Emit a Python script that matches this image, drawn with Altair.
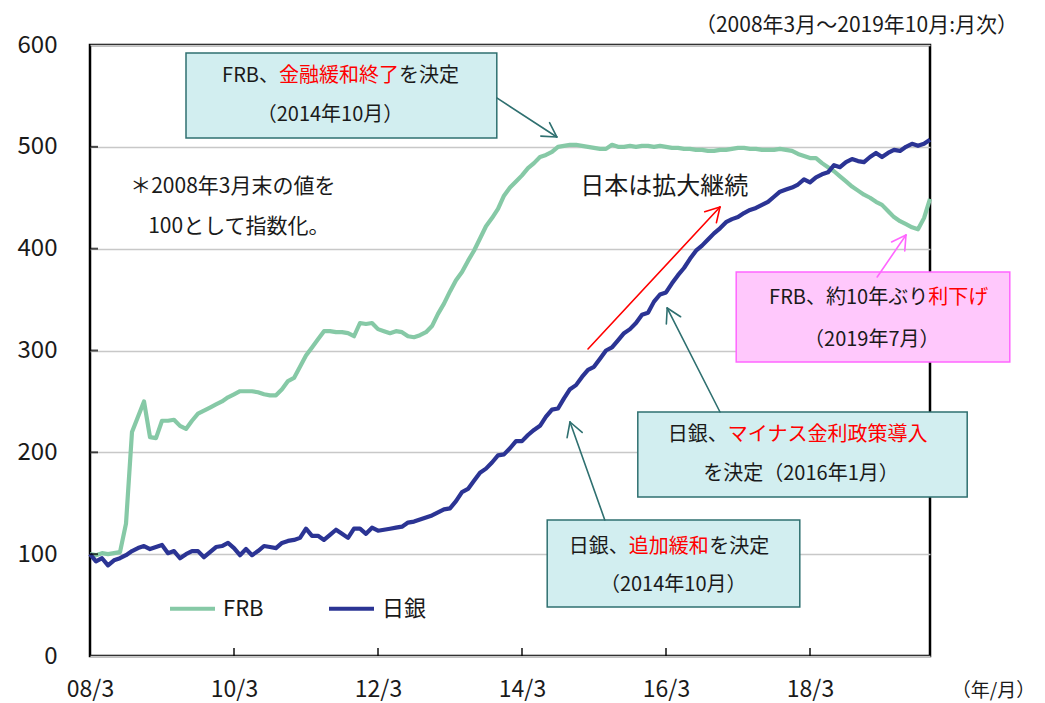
import math
import altair as alt
import pandas as pd

# ---------------- data (index 2008/3 = 100, monthly) ----------------
frb = [100, 99, 101, 100, 101, 102, 130, 220, 235, 250,
       215, 214, 231, 231, 232, 226, 223, 231, 238, 241,
       244, 247, 250, 254, 257, 260, 260, 260, 259, 257,
       256, 256, 262, 270, 273, 284, 295, 303, 311, 319,
       319, 318, 318, 317, 314, 327, 326, 327, 321, 319,
       317, 319, 318, 314, 313, 315, 318, 324, 336, 346,
       358, 369, 377, 388, 398, 410, 422, 430, 439, 452,
       460, 466, 472, 479, 484, 490, 492, 495, 500, 501,
       502, 502, 501, 500, 499, 498, 498, 502, 500, 500,
       501, 500, 501, 501, 500, 501, 500, 499, 499, 498,
       498, 497, 497, 496, 496, 497, 497, 498, 499, 499,
       498, 498, 497, 497, 497, 498, 497, 496, 493, 491,
       489, 489, 484, 480, 476, 471, 466, 461, 457, 453,
       450, 446, 443, 437, 431, 427, 424, 421, 419, 430,
       449]
boj = [100, 93, 96, 89, 94, 96, 99, 103, 106, 108,
       105, 107, 109, 101, 103, 96, 100, 103, 103, 97,
       102, 107, 108, 111, 106, 99, 105, 99, 103, 108,
       107, 106, 111, 113, 114, 116, 125, 118, 118, 114,
       119, 124, 120, 116, 125, 125, 120, 126, 123, 124,
       125, 126, 127, 131, 132, 134, 136, 138, 141, 144,
       145, 152, 161, 164, 172, 180, 184, 190, 197, 198,
       204, 211, 211, 217, 222, 226, 235, 242, 243, 253,
       262, 266, 274, 281, 284, 292, 300, 303, 310, 317,
       321, 327, 335, 337, 348, 355, 357, 366, 374, 381,
       390, 398, 403, 409, 415, 420, 426, 429, 431, 435,
       438, 440, 443, 446, 451, 456, 458, 460, 463, 468,
       465, 470, 473, 475, 482, 480, 485, 488, 486, 485,
       490, 494, 490, 494, 497, 496, 500, 503, 501, 503,
       507]
series_names = ["FRB", "日銀"]
series_colors = ["#86c9a6", "#2b3494"]
tick_months = [0, 24, 48, 72, 96, 120]
tick_labels = ["08/3", "10/3", "12/3", "14/3", "16/3", "18/3"]
y_ticks = [0, 100, 200, 300, 400, 500, 600]

months = list(range(len(frb)))
df = pd.DataFrame({
    "m": months + months,
    "v": frb + boj,
    "series": [series_names[0]] * len(frb) + [series_names[1]] * len(boj),
})

# ---------------- layout ----------------
W, H = 840, 611
XMAX, YMAX = 140, 600
PX_X, PX_Y = W / XMAX, H / YMAX
FONT = "Noto Sans CJK JP"
TEAL_FILL, TEAL_LINE = "#d2eef0", "#2f7070"
PINK_FILL, PINK_LINE = "#ffc8fc", "#ff66ff"
RED = "#ff0000"
INK = "#1a1a1a"

xs = alt.Scale(domain=[0, XMAX], nice=False, zero=False)
ys = alt.Scale(domain=[0, YMAX], nice=False)
label_expr = "[" + ",".join("'%s'" % s for s in tick_labels) + "][round(datum.value/24)]"
X_AX = alt.Axis(values=tick_months, labelExpr=label_expr, ticks=False, domain=False,
                grid=False, labelPadding=22, labelFontSize=23, labelColor=INK,
                labelFont=FONT, labelFlush=False, labelOverlap=False,
                title="（年/月）", titleFont=FONT, titleFontSize=19,
                titleFontWeight="normal", titleColor=INK, titleX=903, titleY=34,
                titleAlign="center", titleBaseline="middle")
Y_AX = alt.Axis(values=y_ticks, ticks=False, domain=False, grid=True,
                gridColor="#c8c8c8", gridWidth=1.5, labelPadding=33,
                labelFontSize=24, labelColor=INK, labelFont=FONT, labelFlush=False,
                labelOverlap=False, title=None)


def X(f="m"):
    return alt.X(f + ":Q", scale=xs, axis=X_AX)


def Y(f="v"):
    return alt.Y(f + ":Q", scale=ys, axis=Y_AX)


# ---------------- annotation boxes (data coordinates) ----------------
boxes = pd.DataFrame([
    dict(m=16.0, m2=67.8, v=592.1, v2=508.7, fill=TEAL_FILL, stroke=TEAL_LINE),
    dict(m=107.7, m2=153.3, v=377.1, v2=288.7, fill=PINK_FILL, stroke=PINK_LINE),
    dict(m=91.3, m2=146.2, v=239.6, v2=156.1, fill=TEAL_FILL, stroke=TEAL_LINE),
    dict(m=76.2, m2=118.3, v=133.6, v2=48.1, fill=TEAL_FILL, stroke=TEAL_LINE),
])
box_layer = alt.Chart(boxes).mark_rect(strokeWidth=1.5).encode(
    x=X(), x2="m2:Q", y=Y(), y2="v2:Q",
    fill=alt.Fill("fill:N", scale=None), stroke=alt.Stroke("stroke:N", scale=None))

# ---------------- texts ----------------
texts = pd.DataFrame([
    dict(t="FRB、", m=31.5, v=569.6, a="right", c=INK, s=20),
    dict(t="金融緩和終了", m=31.5, v=569.6, a="left", c=RED, s=20),
    dict(t="を決定", m=51.5, v=569.6, a="left", c=INK, s=20),
    dict(t="（2014年10月）", m=40.0, v=531.3, a="center", c=INK, s=20),
    dict(t="FRB、約10年ぶり", m=139.7, v=351.6, a="right", c=INK, s=20),
    dict(t="利下げ", m=139.7, v=351.6, a="left", c=RED, s=20),
    dict(t="（2019年7月）", m=130.3, v=310.3, a="center", c=INK, s=20),
    dict(t="日銀、", m=106.3, v=217.0, a="right", c=INK, s=20),
    dict(t="マイナス金利政策導入", m=106.3, v=217.0, a="left", c=RED, s=20),
    dict(t="を決定（2016年1月）", m=118.5, v=178.7, a="center", c=INK, s=20),
    dict(t="日銀、", m=89.8, v=107.0, a="right", c=INK, s=20),
    dict(t="追加緩和", m=89.8, v=107.0, a="left", c=RED, s=20),
    dict(t="を決定", m=103.2, v=107.0, a="left", c=INK, s=20),
    dict(t="（2014年10月）", m=97.2, v=69.7, a="center", c=INK, s=20),
    dict(t="＊2008年3月末の値を", m=6.7, v=460.6, a="left", c=INK, s=21),
    dict(t="100として指数化。", m=9.7, v=421.3, a="left", c=INK, s=21),
    dict(t="日本は拡大継続", m=81.7, v=460.6, a="left", c=INK, s=24),
])
text_layers = []
for al in ["left", "right", "center"]:
    sub = texts[texts["a"] == al]
    text_layers.append(
        alt.Chart(sub).mark_text(align=al, baseline="middle", font=FONT).encode(
            x=X(), y=Y(), text="t:N",
            color=alt.Color("c:N", scale=None),
            size=alt.Size("s:Q", scale=None)))

# ---------------- arrows ----------------
arrows = [
    (67.8, 548.0, 77.8, 509.7, TEAL_LINE),
    (83.0, 301.5, 105.0, 440.9, RED),
    (131.2, 372.2, 136.0, 413.4, PINK_LINE),
    (105.0, 239.6, 96.2, 341.7, TEAL_LINE),
    (85.8, 133.6, 80.0, 229.8, TEAL_LINE),
]


def arrow_segments(m0, v0, m1, v1, col, head=16.0, ang=math.radians(30)):
    dx, dy = (m0 - m1) * PX_X, (v0 - v1) * PX_Y
    n = math.hypot(dx, dy)
    ux, uy = dx / n, dy / n
    segs = [dict(m=m0, v=v0, m2=m1, v2=v1, c=col)]
    for s in (1, -1):
        a = s * ang
        wx = ux * math.cos(a) - uy * math.sin(a)
        wy = ux * math.sin(a) + uy * math.cos(a)
        segs.append(dict(m=m1, v=v1, m2=m1 + wx * head / PX_X,
                         v2=v1 + wy * head / PX_Y, c=col))
    return segs


arrow_rows = []
for a in arrows:
    arrow_rows += arrow_segments(*a)
arrow_layer = alt.Chart(pd.DataFrame(arrow_rows)).mark_rule(
    strokeWidth=1.6, strokeCap="round").encode(
    x=X(), y=Y(), x2="m2:Q", y2="v2:Q", color=alt.Color("c:N", scale=None))

# ---------------- series lines ----------------
line_layer = alt.Chart(df).mark_line(strokeWidth=4.2, strokeJoin="round").encode(
    x=X(), y=Y(),
    color=alt.Color("series:N", sort=series_names,
                    scale=alt.Scale(domain=series_names, range=series_colors),
                    legend=alt.Legend(title=None, orient="none", legendX=78,
                                      legendY=539, direction="horizontal",
                                      symbolType="stroke", symbolStrokeWidth=4,
                                      symbolSize=2025, labelFontSize=22,
                                      labelFont=FONT, labelColor=INK,
                                      labelOffset=6, columnPadding=57)),
    order="m:Q")

# ---------------- inward ticks ----------------
ytick_df = pd.DataFrame({"m": [0] * 5, "v": y_ticks[1:-1]})
ytick_layer = alt.Chart(ytick_df).mark_tick(
    orient="horizontal", size=8, thickness=2, color="black", xOffset=4).encode(x=X(), y=Y())
xtick_df = pd.DataFrame({"m": tick_months[1:], "v": [0] * 5})
xtick_layer = alt.Chart(xtick_df).mark_tick(
    orient="vertical", size=8, thickness=2, color="black", yOffset=-4).encode(x=X(), y=Y())

# ---------------- period note (top right) ----------------
title_layer = alt.Chart(pd.DataFrame({"t": ["（2008年3月～2019年10月:月次）"]})).mark_text(
    align="right", baseline="middle", font=FONT, fontSize=21, color=INK).encode(
    x=alt.value(928), y=alt.value(-19), text="t:N")

chart = alt.layer(
    box_layer, *text_layers, line_layer, arrow_layer, ytick_layer, xtick_layer, title_layer
).resolve_scale(color="independent").properties(
    width=W, height=H,
    autosize=alt.AutoSizeParams(type="none"),
    padding={"left": 82, "top": 37, "right": 107, "bottom": 47},
).configure_view(stroke="black", strokeWidth=2.5)

chart.save("out.html", embed_options={"renderer": "svg", "actions": False})
